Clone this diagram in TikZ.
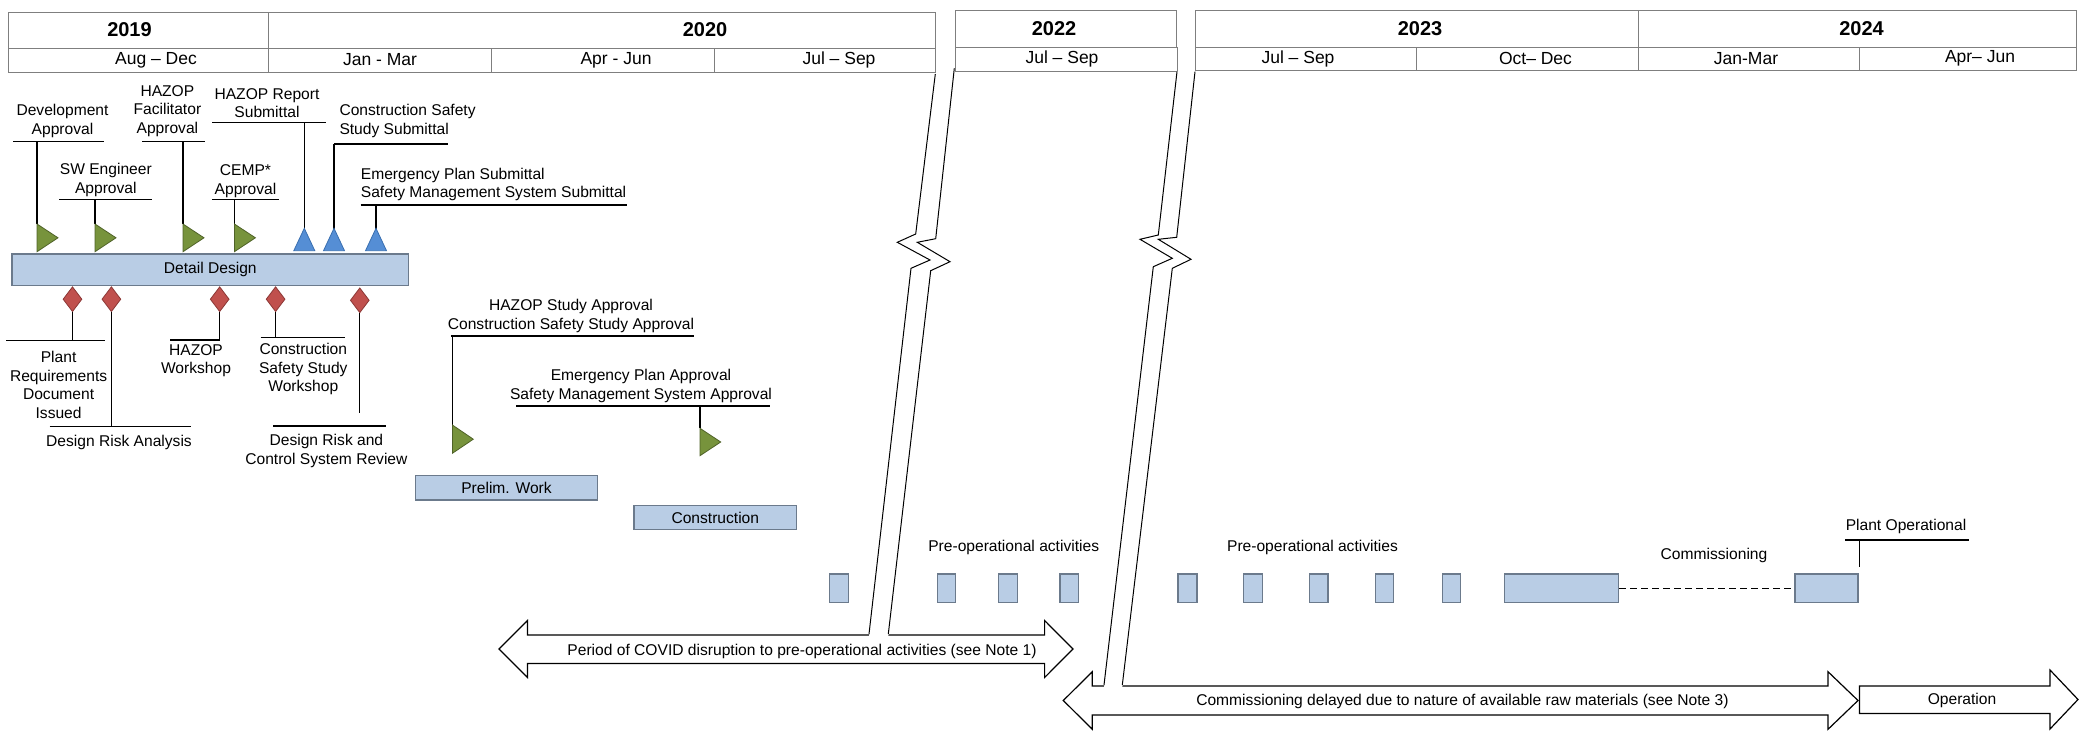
\documentclass[tikz,border=0pt]{standalone}
\usepackage{fontspec}
\setmainfont{Liberation Sans}
\usepackage[HTML]{xcolor}
\usepackage{tikz}
\usetikzlibrary{positioning, arrows, arrows.meta, shapes.geometric}

\definecolor{barfill}{HTML}{B9CDE5}
\definecolor{bardraw}{HTML}{6B7A8C}
\definecolor{hdrline}{HTML}{7F7F7F}
\definecolor{msgreen}{HTML}{77933C}
\definecolor{msgreenline}{HTML}{4F6228}
\definecolor{msblue}{HTML}{558ED5}
\definecolor{msblueline}{HTML}{3A6FB0}
\definecolor{msred}{HTML}{C0504D}
\definecolor{msredline}{HTML}{8C3836}

\tikzset{
  lbl/.style={font=\fontsize{15.6}{18.5}\selectfont, align=center, inner sep=0pt},
  yearlbl/.style={font=\fontsize{20}{24}\selectfont\bfseries, inner sep=0pt},
  qlbl/.style={font=\fontsize{17.5}{21}\selectfont, inner sep=0pt},
  cell/.style={draw=hdrline, line width=1.2pt, anchor=north west, inner sep=0pt},
  bar/.style={draw=bardraw, fill=barfill, line width=1.2pt, inner sep=0pt, font=\fontsize{15.6}{18.5}\selectfont},
  leader/.style={line width=1.2pt},
  gflag/.style={fill=msgreen, draw=msgreenline, line width=0.8pt},
  bflag/.style={fill=msblue, draw=msblueline, line width=0.8pt},
  rdiam/.style={diamond, fill=msred, draw=msredline, line width=0.8pt, inner sep=0pt, minimum width=19, minimum height=25},
  bigarrow/.style={draw=black, fill=white, line width=1.2pt, line join=miter},
  breakline/.style={line width=1pt}
}

\begin{document}
\begin{tikzpicture}[x=1pt, y=-1pt]
\useasboundingbox (0,0) rectangle (2080,735);

\node[cell, minimum width=260, minimum height=36.6] (y2019) at (8,11.7) {};
\node[cell, minimum width=667, minimum height=36.6] (y2020) at (268,11.7) {};
\node[cell, minimum width=260, minimum height=23.4] (q2019) at (8,48.3) {};
\node[cell, minimum width=223, minimum height=23.4] (q2020a) at (268,48.3) {};
\node[cell, minimum width=223, minimum height=23.4] (q2020b) at (491,48.3) {};
\node[cell, minimum width=221, minimum height=23.4] (q2020c) at (714,48.3) {};
\node[cell, minimum width=221, minimum height=36.7] (y2022) at (955,10) {};
\node[cell, minimum width=222, minimum height=24] (q2022) at (955,46.7) {};
\node[cell, minimum width=442.5, minimum height=36.7] (y2023) at (1195,10) {};
\node[cell, minimum width=438.5, minimum height=36.7] (y2024) at (1637.5,10) {};
\node[cell, minimum width=221, minimum height=23.3] (q2023a) at (1195,46.7) {};
\node[cell, minimum width=221.5, minimum height=23.3] (q2023b) at (1416,46.7) {};
\node[cell, minimum width=221, minimum height=23.3] (q2024a) at (1637.5,46.7) {};
\node[cell, minimum width=217.5, minimum height=23.3] (q2024b) at (1858.5,46.7) {};

\node[yearlbl] (t2019) at (129.5,30) {2019};
\node[yearlbl] (t2020) at (705,30) {2020};
\node[yearlbl] (t2022) at (1054,28.3) {2022};
\node[yearlbl] (t2023) at (1420,28.3) {2023};
\node[yearlbl] (t2024) at (1861.5,28.3) {2024};
\node[qlbl] (taug) at (156,60) {Aug -- Dec};
\node[qlbl] (tjan20) at (380,60) {Jan - Mar};
\node[qlbl] (tapr20) at (616,60) {Apr - Jun};
\node[qlbl] (tjul20) at (839,60) {Jul -- Sep};
\node[qlbl] (tjul22) at (1062,58.7) {Jul -- Sep};
\node[qlbl] (tjul23) at (1298,58.7) {Jul -- Sep};
\node[qlbl] (toct23) at (1535.5,58.7) {Oct-- Dec};
\node[qlbl] (tjan24) at (1746,58.7) {Jan-Mar};
\node[qlbl] (tapr24) at (1980,58.7) {Apr-- Jun};

\node[bar, minimum width=396.5, minimum height=31.7] (detail) at (210.3,269.9) {Detail Design};
\node[bar, minimum width=181.5, minimum height=24.3] (prelim) at (506.5,487.9) {Prelim. Work};
\node[bar, minimum width=162.5, minimum height=23.6] (constr) at (715.3,517.5) {Construction};

\node[lbl] (devapp) at (62.5,121) {Development\\Approval};
\node[lbl] (swapp) at (105.8,180) {SW Engineer\\Approval};
\node[lbl] (hazfac) at (167.4,111) {HAZOP\\Facilitator\\Approval};
\node[lbl] (cemp) at (245.5,181) {CEMP*\\Approval};
\node[lbl] (hazrep) at (267,103) {HAZOP Report\\Submittal};
\node[lbl, align=left, anchor=west] (csssub) at (339.3,121) {Construction Safety\\Study Submittal};
\node[lbl, align=left, anchor=west] (epsub) at (360.7,184.5) {Emergency Plan Submittal\\Safety Management System Submittal};

\draw[leader] (13.4,141.7) -- (104,141.7) (37,141.7) -- (37,224);
\draw[leader] (59.4,199.3) -- (151.8,199.3) (95,199.3) -- (95,224);
\draw[leader] (142,141.7) -- (205,141.7) (183,141.7) -- (183,224);
\draw[leader] (212,199.3) -- (279,199.3) (234.4,199.3) -- (234.4,224);
\draw[leader] (212,122.7) -- (326,122.7) (304.3,122.7) -- (304.3,229);
\draw[leader] (334,144) -- (447.7,144) (334,144) -- (334,229);
\draw[leader] (360.7,205) -- (627,205) (376,205) -- (376,229);

\draw[gflag] (37,224) -- (37,251.7) -- (58,237.8) -- cycle;
\draw[gflag] (95,224) -- (95,251.7) -- (116,237.8) -- cycle;
\draw[gflag] (183,224) -- (183,251.7) -- (204,237.8) -- cycle;
\draw[gflag] (234.4,224) -- (234.4,251.7) -- (255.4,237.8) -- cycle;
\draw[bflag] (304.3,228.3) -- (314.8,250.7) -- (293.8,250.7) -- cycle;
\draw[bflag] (334,228.3) -- (344.5,250.7) -- (323.5,250.7) -- cycle;
\draw[bflag] (376,228.3) -- (386.5,250.7) -- (365.5,250.7) -- cycle;

\node[rdiam] (d1) at (72.5,299.2) {};
\node[rdiam] (d2) at (111.4,299.2) {};
\node[rdiam] (d3) at (219.7,299.2) {};
\node[rdiam] (d4) at (275.6,299.2) {};
\node[rdiam] (d5) at (359.8,300.3) {};

\node[lbl] (plantreq) at (58.6,385) {Plant\\Requirements\\Document\\Issued};
\node[lbl] (dra) at (119,442.5) {Design Risk Analysis};
\node[lbl] (hazws) at (196,360.5) {HAZOP\\Workshop};
\node[lbl] (cssws) at (303.3,369) {Construction\\Safety Study\\Workshop};
\node[lbl] (drcsr) at (326.4,451) {Design Risk and\\Control System Review};

\draw[leader] (d1.south) -- (d1.south |- 0,340.7) (6.3,340.7) -- (104.6,340.7);
\draw[leader] (d2.south) -- (d2.south |- 0,426.7) (49.7,426.7) -- (191.4,426.7);
\draw[leader] (d3.south) -- (d3.south |- 0,340) -- (170,340);
\draw[leader] (d4.south) -- (d4.south |- 0,337.7) (260.5,337.7) -- (345,337.7);
\draw[leader] (d5.south) -- (d5.south |- 0,413.3) (273,426) -- (386,426);

\node[lbl] (hsapp) at (571,316) {HAZOP Study Approval\\Construction Safety Study Approval};
\node[lbl] (epapp) at (641,386) {Emergency Plan Approval\\Safety Management System Approval};
\draw[leader] (450.8,336) -- (693.5,336) (452.4,336) -- (452.4,425);
\draw[leader] (516,406) -- (770,406) (700,406) -- (700,428.3);
\draw[gflag] (452.4,425) -- (452.4,453.3) -- (473.3,439.2) -- cycle;
\draw[gflag] (700,428.3) -- (700,455.7) -- (720.7,442) -- cycle;

\node[bar, minimum width=19, minimum height=28.3] (pre1) at (838.8,588.2) {};
\node[bar, minimum width=18.4, minimum height=28.3] (pre2) at (946.5,588.2) {};
\node[bar, minimum width=19, minimum height=28.3] (pre3) at (1007.8,588.2) {};
\node[bar, minimum width=18.3, minimum height=28.3] (pre4) at (1069.2,588.2) {};
\node[bar, minimum width=19, minimum height=28.3] (pre5) at (1187.5,588.2) {};
\node[bar, minimum width=18.7, minimum height=28.3] (pre6) at (1253.1,588.2) {};
\node[bar, minimum width=18.6, minimum height=28.3] (pre7) at (1318.7,588.2) {};
\node[bar, minimum width=18.2, minimum height=28.3] (pre8) at (1384.7,588.2) {};
\node[bar, minimum width=18.1, minimum height=28.3] (pre9) at (1451.5,588.2) {};
\node[bar, minimum width=114.4, minimum height=28.3] (comm1) at (1561.6,588.2) {};
\node[bar, minimum width=63, minimum height=28.3] (comm2) at (1826.5,588.2) {};
\draw[leader, dashed, dash pattern=on 7pt off 4pt] (comm1.east) -- (comm2.west);

\node[lbl] (preop1) at (1013.7,547.7) {Pre-operational activities};
\node[lbl] (preop2) at (1312.5,547.7) {Pre-operational activities};
\node[lbl] (comm) at (1714,555) {Commissioning};
\node[lbl] (plantop) at (1906,526) {Plant Operational};
\draw[leader] (1845,540) -- (1968.8,540) (1859.4,540) -- (1859.4,566.7);

\draw[bigarrow] (499,649) -- (527.4,620.5) -- (527.4,635) -- (1044.6,635) -- (1044.6,620.5) -- (1073,649) -- (1044.6,677.5) -- (1044.6,663.5) -- (527.4,663.5) -- (527.4,677.5) -- cycle;
\node[lbl] (covid) at (802,651) {Period of COVID disruption to pre-operational activities (see Note 1)};

\draw[bigarrow] (1063.3,700.5) -- (1092.3,671.7) -- (1092.3,686) -- (1828,686) -- (1828,671.7) -- (1858,700.5) -- (1828,729.3) -- (1828,715) -- (1092.3,715) -- (1092.3,729.3) -- cycle;
\node[lbl] (delay) at (1462.5,701) {Commissioning delayed due to nature of available raw materials (see Note 3)};

\draw[bigarrow] (1859.4,686) -- (2050,686) -- (2050,670) -- (2078,699.5) -- (2050,729) -- (2050,713.5) -- (1859.4,713.5) -- cycle;
\node[lbl] (oper) at (1962,700.5) {Operation};

\fill[white] (935.3,74) -- (915.7,234) -- (897.3,242.3) -- (930,260) -- (911,268.3) -- (869,636.5) -- (888.3,636.5) -- (930.7,270.7) -- (950,261.7) -- (917.3,242.3) -- (935.7,238.7) -- (954.3,68.3) -- cycle;
\draw[breakline] (935.3,74) -- (915.7,234) -- (897.3,242.3) -- (930,260) -- (911,268.3) -- (869,634);
\draw[breakline] (954.3,68.3) -- (935.7,238.7) -- (917.3,242.3) -- (950,261.7) -- (930.7,270.7) -- (888.3,634);

\fill[white] (1177,71.7) -- (1158.3,235) -- (1140,239.3) -- (1172.3,258.3) -- (1153.3,266.7) -- (1104,687.5) -- (1122.3,687.5) -- (1172.3,268.3) -- (1191,259.3) -- (1158.3,239.3) -- (1176.7,237.3) -- (1195,71.7) -- cycle;
\draw[breakline] (1177,71.7) -- (1158.3,235) -- (1140,239.3) -- (1172.3,258.3) -- (1153.3,266.7) -- (1104,685);
\draw[breakline] (1195,71.7) -- (1176.7,237.3) -- (1158.3,239.3) -- (1191,259.3) -- (1172.3,268.3) -- (1122.3,685);
\end{tikzpicture}
\end{document}
